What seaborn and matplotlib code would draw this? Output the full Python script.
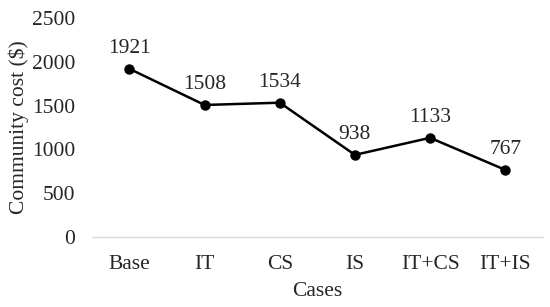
import numpy as np
import pandas as pd
import matplotlib
matplotlib.use("Agg")
import matplotlib.pyplot as plt
import seaborn as sns

cases = ["Base", "IT", "CS", "IS", "IT+CS", "IT+IS"]
cost = [1921, 1508, 1534, 938, 1133, 767]

df = pd.DataFrame({"Cases": cases, "cost": cost})

sns.set_style("white")
plt.rcParams["font.family"] = ["Liberation Serif", "DejaVu Serif"]

fs = 15.5

fig = plt.figure(figsize=(5.5, 3.07), dpi=100)
ax = fig.add_axes([0.167, 0.228, 0.82, 0.713])

sns.lineplot(data=df, x="Cases", y="cost", sort=False, color="black",
             linewidth=1.8, marker="o", markersize=7.5, markeredgewidth=0, ax=ax)

# étiquettes de valeurs au-dessus des points
for i, v in enumerate(cost):
    ax.annotate(str(v), (i, v), xytext=(0, 8), textcoords="offset points",
                ha="center", va="bottom", fontsize=fs)

ax.set_xlim(-0.5, len(cases) - 0.5)
ax.set_ylim(0, 2500)
ax.set_yticks(np.arange(0, 2501, 500))
ax.set_xlabel("Cases", fontsize=fs, labelpad=6)
ax.set_ylabel("Community cost ($)", fontsize=fs, labelpad=2)
ax.tick_params(axis="x", labelsize=fs, length=0, pad=13)
ax.tick_params(axis="y", labelsize=fs, length=0, pad=12)

for s in ["top", "right", "left"]:
    ax.spines[s].set_visible(False)
ax.spines["bottom"].set_color("#d9d9d9")
ax.spines["bottom"].set_linewidth(1)

fig.savefig("out.png", dpi=100)
